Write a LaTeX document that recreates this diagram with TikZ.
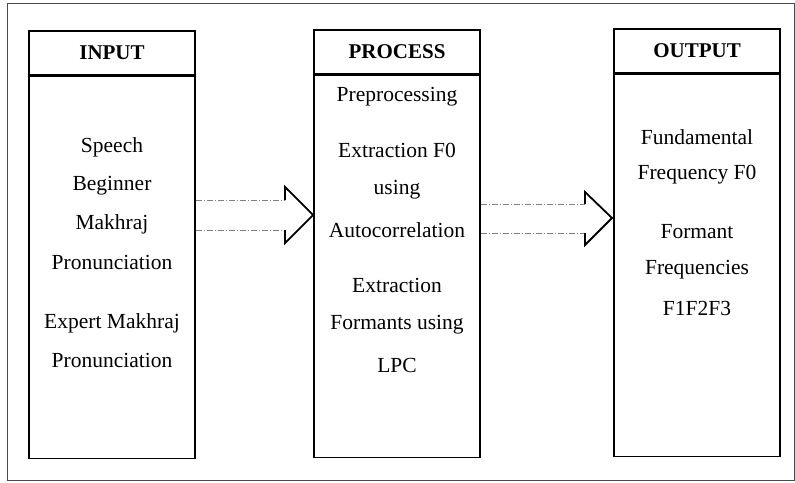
\documentclass[tikz,border=0pt]{standalone}
\usepackage{fontspec}
\setmainfont{Liberation Serif}
\usetikzlibrary{positioning, calc}
\tikzstyle{head_box} = [rectangle, draw, line width=1.6pt, minimum width=166pt, minimum height=44pt, inner sep=0pt, font=\fontsize{21}{24}\selectfont\bfseries]
\tikzstyle{body_box} = [rectangle, draw, line width=1.6pt, minimum width=166pt, minimum height=382pt, inner sep=0pt]
\tikzstyle{txt} = [inner sep=0pt, font=\fontsize{21.5}{24}\selectfont]
\tikzstyle{shaft} = [draw, gray, line width=0.8pt, dash pattern=on 6pt off 2pt on 1pt off 2pt]
\tikzstyle{tip_head} = [draw, line width=1.8pt, line join=miter]

\begin{document}
\begin{tikzpicture}[x=1pt, y=-1pt]
	\useasboundingbox (0,0) rectangle (795,482);
	\draw [line width=1pt, black!70] (7,3) rectangle (794,480);
	
	% input column
	\node [head_box] (in_head) at (112,53) {INPUT};
	\node [body_box, below=0pt of in_head] (in_body) {};
	\node [txt] (in1) at (112,147) {Speech};
	\node [txt] (in2) at (112,186) {Beginner};
	\node [txt] (in3) at (112,224) {Makhraj};
	\node [txt] (in4) at (112,262) {Pronunciation};
	\node [txt] (in5) at (112,323) {Expert Makhraj};
	\node [txt] (in6) at (112,360) {Pronunciation};
	
	% process column
	\node [head_box] (pr_head) at (397,52) {PROCESS};
	\node [body_box, below=0pt of pr_head] (pr_body) {};
	\node [txt] (pr1) at (397,97) {Preprocessing};
	\node [txt] (pr2) at (397,150) {Extraction F0};
	\node [txt] (pr3) at (397,190) {using};
	\node [txt] (pr4) at (397,230) {Autocorrelation};
	\node [txt] (pr5) at (397,285) {Extraction};
	\node [txt] (pr6) at (397,325) {Formants using};
	\node [txt] (pr7) at (397,365) {LPC};
	
	% output column
	\node [head_box] (out_head) at (697,51) {OUTPUT};
	\node [body_box, below=0pt of out_head] (out_body) {};
	\node [txt] (out1) at (697,137) {Fundamental};
	\node [txt] (out2) at (697,175) {Frequency F0};
	\node [txt] (out3) at (697,232) {Formant};
	\node [txt] (out4) at (697,270) {Frequencies};
	\node [txt] (out5) at (697,308) {F1F2F3};
	
	% first arrow
	\coordinate (a1u) at (285,200);
	\coordinate (a1d) at (285,230);
	\path [shaft] (in_body.east |- a1u) -- (a1u);
	\path [shaft] (in_body.east |- a1d) -- (a1d);
	\path [tip_head] (a1u) -- (285,187) -- (pr_body.west |- 0,215) -- (285,243) -- (a1d);
	
	% second arrow
	\coordinate (a2u) at (585,204);
	\coordinate (a2d) at (585,233);
	\path [shaft] (pr_body.east |- a2u) -- (a2u);
	\path [shaft] (pr_body.east |- a2d) -- (a2d);
	\path [tip_head] (a2u) -- (585,192) -- (612,218) -- (585,245) -- (a2d);
\end{tikzpicture}
\end{document}
